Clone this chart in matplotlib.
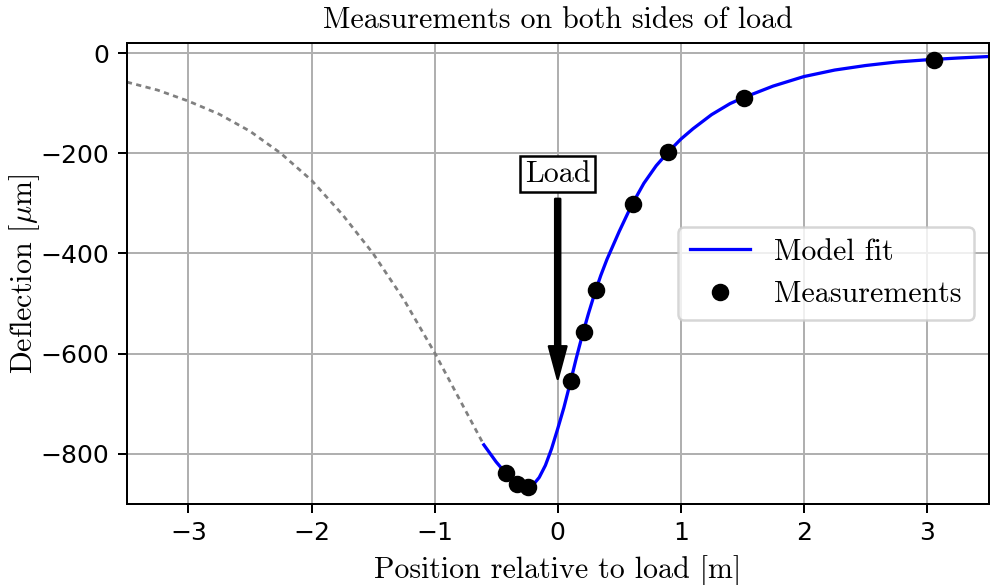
import numpy as np
import matplotlib
matplotlib.use("Agg")
import matplotlib.pyplot as plt

plt.rcParams['mathtext.fontset'] = 'cm'

x_meas = [-0.42, -0.33, -0.24, 0.11, 0.21, 0.31, 0.61, 0.90, 1.51, 3.06]
y_meas = [-839, -861, -867, -654, -556, -473, -301, -197, -89, -13]

# model curve, extrapolated part (dotted)
x_extra = [-3.5, -3.25, -3.0, -2.75, -2.5, -2.25, -2.0, -1.75, -1.5, -1.25,
           -1.0, -0.8, -0.6]
y_extra = [-58, -74, -96, -122, -156, -200, -254, -322, -400, -492,
           -598, -690, -782]

# model curve, fitted part (solid)
x_fit = [-0.6, -0.5, -0.4, -0.3, -0.25, -0.2, -0.15, -0.1, -0.05, 0.0,
         0.05, 0.1, 0.15, 0.2, 0.25, 0.3, 0.35, 0.4, 0.5, 0.6, 0.7, 0.8, 0.9,
         1.0, 1.1, 1.25, 1.4, 1.5, 1.75, 2.0, 2.25, 2.5, 2.75, 3.0, 3.25, 3.5]
y_fit = [-782, -816, -845, -864, -868, -862, -847, -823, -790, -750,
         -708, -660, -610, -563, -520, -480, -444, -412, -356, -304, -260,
         -225, -197, -172, -151, -123, -101, -90, -66, -47, -34, -25, -18,
         -13.5, -10, -7]

serif = 'cmr10'

fig = plt.figure(figsize=(999 / 180, 585 / 180), dpi=180)
ax = fig.add_axes([0.127, 0.1385, 0.8625, 0.788])

ax.plot(x_extra, y_extra, color='gray', lw=1.1, ls=(0, (1.9, 1.6)))
ax.plot(x_fit, y_fit, 'b-', lw=1.3, label='Model fit')
ax.plot(x_meas, y_meas, 'ko', ms=6, label='Measurements')

ax.annotate('Load', xy=(0, -662), xytext=(0, -242),
            ha='center', va='center', fontsize=12, family=serif,
            bbox=dict(boxstyle='square,pad=0.15', fc='white', ec='black'),
            arrowprops=dict(facecolor='black', width=2.0, headwidth=7,
                            headlength=13, shrink=0.03))

ax.set_xlim(-3.5, 3.5)
ax.set_ylim(-900, 20)
ax.set_xticks([-3, -2, -1, 0, 1, 2, 3])
ax.set_yticks([0, -200, -400, -600, -800])
ax.grid(True)

ax.set_title('Measurements on both sides of load', fontsize=12, family=serif)
ax.set_xlabel('Position relative to load [m]', fontsize=12, family=serif)
ax.set_ylabel(r'Deflection [$\mu$m]', fontsize=12, family=serif)
ax.yaxis.set_label_coords(-0.099, 0.5)
ax.legend(loc='center right', prop={'family': serif, 'size': 12})

fig.savefig('out.png', dpi=180)
